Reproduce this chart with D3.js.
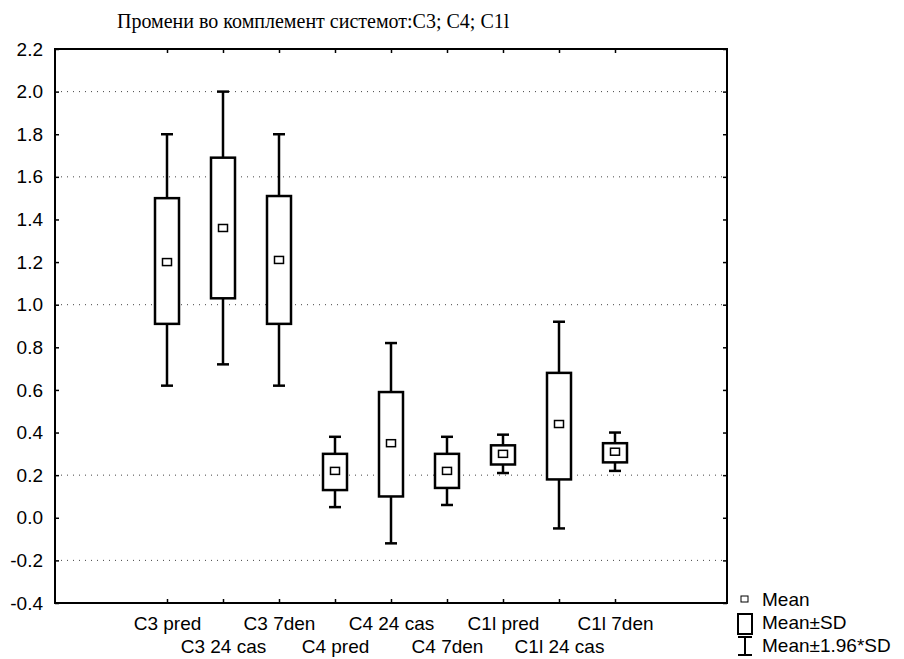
<!DOCTYPE html>
<meta charset="UTF-8">
<script src="https://d3js.org/d3.v7.min.js"></script>
<style>
body { margin: 0; background: #fff; }
text { font-family: "Liberation Sans", Arial, sans-serif; }
</style>
<div id="chart"></div>
<script>
// values
var categories = ["C3 pred", "C3 24 cas", "C3 7den", "C4 pred", "C4 24 cas", "C4 7den", "C1l pred", "C1l 24 cas", "C1l 7den"];
var means  = [1.20, 1.36, 1.21, 0.22, 0.35, 0.22, 0.30, 0.44, 0.31];
var sdLow  = [0.91, 1.03, 0.91, 0.13, 0.10, 0.14, 0.25, 0.18, 0.26];
var sdHigh = [1.50, 1.69, 1.51, 0.30, 0.59, 0.30, 0.34, 0.68, 0.35];
var ciLow  = [0.62, 0.72, 0.62, 0.05, -0.12, 0.06, 0.21, -0.05, 0.22];
var ciHigh = [1.80, 2.00, 1.80, 0.38, 0.82, 0.38, 0.39, 0.92, 0.40];
var yTicks = [2.2, 2.0, 1.8, 1.6, 1.4, 1.2, 1.0, 0.8, 0.6, 0.4, 0.2, 0.0, -0.2, -0.4];
var gridValues = [2.0, 1.6, 1.0, 0.2, -0.2];
var legendLabels = ["Mean", "Mean\u00b1SD", "Mean\u00b11.96*SD"];
var title = "Промени во комплемент системот:C3; C4; C1l";

var width = 904, height = 659;
var m = {left: 55, right: 727, top: 49, bottom: 603};

var svg = d3.select("#chart").append("svg")
    .attr("width", width)
    .attr("height", height);

var x = d3.scalePoint().domain(categories).range([m.left, m.right]).padding(2);
var y = d3.scaleLinear().domain([-0.4, 2.2]).range([m.bottom, m.top]);

// title
svg.append("text")
    .attr("x", 117).attr("y", 28)
    .style("font-family", "'Liberation Serif', 'Times New Roman', serif")
    .style("font-size", "20px")
    .text(title);

// dotted grid
svg.append("g").selectAll("line")
    .data(gridValues)
    .enter().append("line")
        .attr("x1", m.left).attr("x2", m.right)
        .attr("y1", function(d){ return y(d) }).attr("y2", function(d){ return y(d) })
        .attr("stroke", "#444")
        .attr("stroke-width", 1)
        .attr("stroke-dasharray", "1,5");

// axes, ticks pointing inward
var yAxis = svg.append("g")
    .attr("transform", "translate(" + m.left + ",0)")
    .call(d3.axisLeft(y).tickValues(yTicks).tickSizeInner(-4).tickSizeOuter(0).tickPadding(12)
        .tickFormat(function(d){ return d.toFixed(1) }));
yAxis.selectAll("text").style("font-size", "19px").attr("fill", "#000");

svg.append("g")
    .attr("transform", "translate(" + m.right + ",0)")
    .call(d3.axisRight(y).tickValues(yTicks).tickSizeInner(-4).tickSizeOuter(0).tickFormat(""));

var xAxis = svg.append("g")
    .attr("transform", "translate(0," + m.bottom + ")")
    .call(d3.axisBottom(x).tickSizeInner(-4).tickSizeOuter(0));
xAxis.selectAll("text")
    .style("font-size", "19px")
    .attr("fill", "#000")
    .attr("dy", 0)
    .attr("y", function(d, i){ return i % 2 == 0 ? 27 : 50 });

svg.append("g")
    .attr("transform", "translate(0," + m.top + ")")
    .call(d3.axisTop(x).tickSizeInner(-4).tickSizeOuter(0).tickFormat(""));

svg.selectAll(".domain").remove();
svg.selectAll(".tick line").attr("stroke", "#000").attr("stroke-width", 1.5);

// frame
svg.append("rect")
    .attr("x", m.left).attr("y", m.top)
    .attr("width", m.right - m.left).attr("height", m.bottom - m.top)
    .attr("fill", "none")
    .attr("stroke", "#000")
    .attr("stroke-width", 2);

// whiskers + boxes + means
var boxW = 24, capW = 12, meanW = 9, meanH = 7;
var groups = svg.append("g").selectAll("g")
    .data(categories)
    .enter().append("g");

groups.append("line")
    .attr("x1", function(d){ return x(d) }).attr("x2", function(d){ return x(d) })
    .attr("y1", function(d, i){ return y(ciHigh[i]) })
    .attr("y2", function(d, i){ return y(ciLow[i]) })
    .attr("stroke", "#000").attr("stroke-width", 2.5);

groups.append("line")
    .attr("x1", function(d){ return x(d) - capW/2 }).attr("x2", function(d){ return x(d) + capW/2 })
    .attr("y1", function(d, i){ return y(ciHigh[i]) }).attr("y2", function(d, i){ return y(ciHigh[i]) })
    .attr("stroke", "#000").attr("stroke-width", 2.5);

groups.append("line")
    .attr("x1", function(d){ return x(d) - capW/2 }).attr("x2", function(d){ return x(d) + capW/2 })
    .attr("y1", function(d, i){ return y(ciLow[i]) }).attr("y2", function(d, i){ return y(ciLow[i]) })
    .attr("stroke", "#000").attr("stroke-width", 2.5);

groups.append("rect")
    .attr("x", function(d){ return x(d) - boxW/2 })
    .attr("y", function(d, i){ return y(sdHigh[i]) })
    .attr("width", boxW)
    .attr("height", function(d, i){ return y(sdLow[i]) - y(sdHigh[i]) })
    .attr("fill", "#fff")
    .attr("stroke", "#000").attr("stroke-width", 2.5);

groups.append("rect")
    .attr("x", function(d){ return x(d) - meanW/2 })
    .attr("y", function(d, i){ return y(means[i]) - meanH/2 })
    .attr("width", meanW).attr("height", meanH)
    .attr("fill", "#fff")
    .attr("stroke", "#000").attr("stroke-width", 1.5);

// legend
var lg = svg.append("g");
var lx = 745, ly = [606, 629, 652];
lg.append("rect").attr("x", lx - 4).attr("y", ly[0] - 10).attr("width", 7).attr("height", 6)
    .attr("fill", "#fff").attr("stroke", "#000").attr("stroke-width", 1);
lg.append("rect").attr("x", lx - 7).attr("y", ly[1] - 15).attr("width", 14).attr("height", 20)
    .attr("fill", "#fff").attr("stroke", "#000").attr("stroke-width", 2);
lg.append("path")
    .attr("d", "M" + (lx - 7) + "," + (ly[2] - 15) + "h14M" + lx + "," + (ly[2] - 15) + "v18M" + (lx - 7) + "," + (ly[2] + 3) + "h14")
    .attr("fill", "none").attr("stroke", "#000").attr("stroke-width", 2);
lg.selectAll("text")
    .data(legendLabels)
    .enter().append("text")
        .attr("x", 762)
        .attr("y", function(d, i){ return ly[i] })
        .style("font-size", "19px")
        .text(function(d){ return d });
</script>
